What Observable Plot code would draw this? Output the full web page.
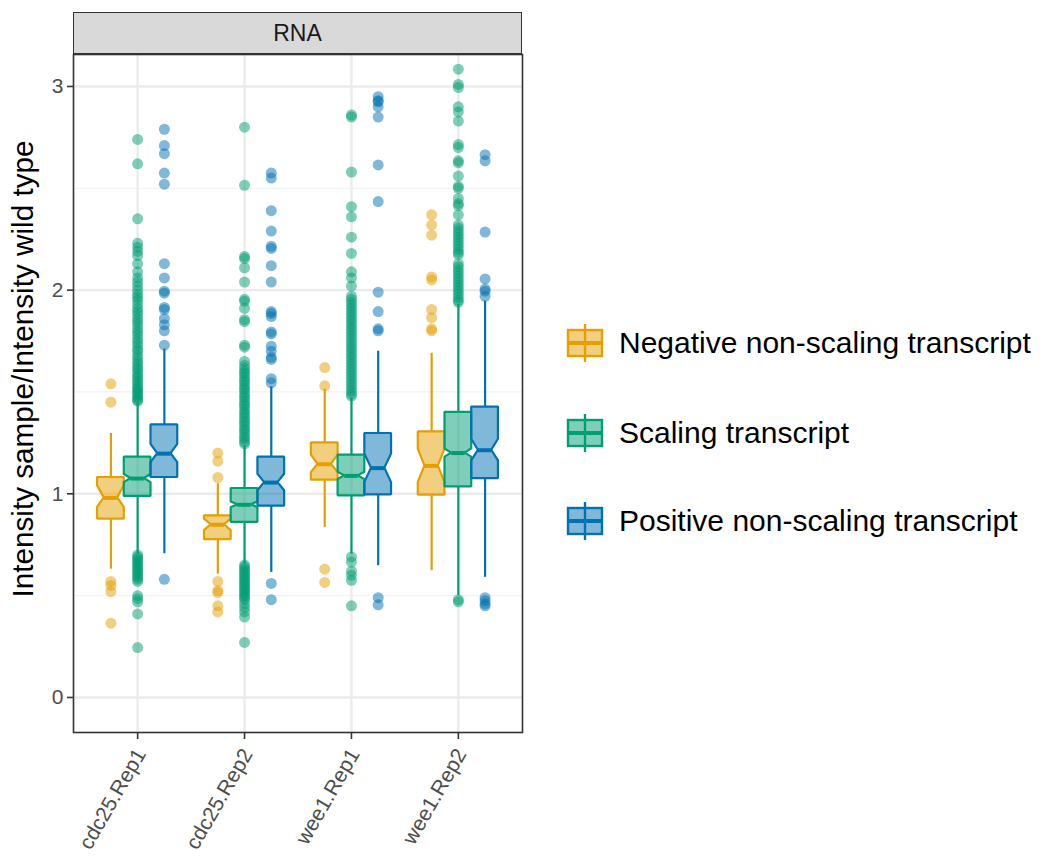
<!DOCTYPE html>
<html>
<head>
<meta charset="utf-8">
<script src="https://cdn.jsdelivr.net/npm/d3@7"></script>
<script src="https://cdn.jsdelivr.net/npm/@observablehq/plot@0.6"></script>
<style>
  body { margin: 0; background: #fff; font-family: "Liberation Sans", Arial, sans-serif; }
  #wrap { position: relative; width: 1040px; height: 857px; overflow: hidden; }
  #chart { position: absolute; left: 0; top: 0; }
  #strip {
    position: absolute; left: 73px; top: 12px; width: 449px; height: 42px;
    box-sizing: border-box; background: #D9D9D9; border: 1.5px solid #333;
    display: flex; align-items: center; justify-content: center;
    font-size: 23px; color: #1a1a1a;
  }
  #ylab {
    position: absolute; left: 23px; top: 369px; white-space: nowrap;
    transform: translate(-50%, -50%) rotate(-90deg);
    font-size: 29.7px; color: #000;
  }
  #legend { position: absolute; left: 562px; top: 0; }
  .key { position: absolute; display: flex; align-items: center; white-space: nowrap; }
  .key span { font-size: 30px; color: #000; margin-left: 13px; }
</style>
</head>
<body>
<div id="wrap">
  <div id="chart"></div>
  <div id="strip">RNA</div>
  <div id="ylab">Intensity sample/Intensity wild type</div>
  <div id="legend"></div>
</div>
<script>
// Samples on the x axis and transcript classes (dodged within each sample)
const categories = ["cdc25.Rep1", "cdc25.Rep2", "wee1.Rep1", "wee1.Rep2"];
const groups = ["Negative non-scaling transcript", "Scaling transcript", "Positive non-scaling transcript"];
const colors = ["#E69F00", "#009E73", "#0072B2"];
const yTicks = [0, 1, 2, 3];

// Box statistics per sample: [whisker low, Q1, notch low, median, notch high, Q3, whisker high]
const negativeStats = [
  [0.630, 0.876, 0.933, 0.980, 1.039, 1.080, 1.296],
  [0.606, 0.775, 0.819, 0.848, 0.876, 0.892, 1.050],
  [0.835, 1.067, 1.104, 1.145, 1.190, 1.250, 1.513],
  [0.623, 0.994, 1.055, 1.137, 1.219, 1.304, 1.690]
];
const scalingStats = [
  [0.705, 0.987, 1.055, 1.075, 1.095, 1.180, 1.445],
  [0.655, 0.860, 0.932, 0.946, 0.960, 1.026, 1.235],
  [0.704, 0.990, 1.070, 1.088, 1.106, 1.190, 1.470],
  [0.500, 1.034, 1.180, 1.200, 1.220, 1.400, 1.930]
];
const positiveStats = [
  [0.706, 1.080, 1.153, 1.197, 1.243, 1.338, 1.710],
  [0.614, 0.940, 1.015, 1.055, 1.096, 1.180, 1.525],
  [0.647, 0.995, 1.055, 1.126, 1.195, 1.296, 1.700],
  [0.590, 1.075, 1.162, 1.214, 1.268, 1.426, 1.946]
];

// Outlying transcripts per sample
const negativeOutliers = [
  [1.54, 1.45, 0.57, 0.55, 0.52, 0.365],
  [1.20, 1.16, 1.08, 0.57, 0.525, 0.515, 0.45, 0.42],
  [1.62, 1.53, 0.63, 0.565],
  [2.37, 2.32, 2.27, 2.065, 2.05, 1.905, 1.865, 1.81, 1.80]
];
const scalingOutliers = [
  [2.74, 2.62, 2.35, 2.23, 2.21, 2.19, 2.17, 2.13, 2.09, 2.06, 2.04, 2.02, 2.00, 1.98, 1.965, 1.95,
   1.93, 1.91, 1.895, 1.88, 1.86, 1.845, 1.83, 1.81, 1.795, 1.78, 1.76, 1.745, 1.73, 1.71, 1.70,
   1.68, 1.665, 1.65, 1.635, 1.62, 1.61, 1.595, 1.58, 1.57, 1.555, 1.545, 1.53, 1.52, 1.51, 1.50,
   1.49, 1.48, 1.47, 1.46, 1.455,
   0.70, 0.69, 0.68, 0.67, 0.66, 0.65, 0.64, 0.63, 0.62, 0.61, 0.60, 0.59, 0.58, 0.57, 0.50, 0.485,
   0.47, 0.41, 0.245],
  [2.80, 2.515, 2.165, 2.155, 2.11, 2.04, 1.955, 1.945, 1.91, 1.855, 1.845, 1.73, 1.72, 1.65, 1.63,
   1.615, 1.60, 1.59, 1.575, 1.56, 1.55, 1.535, 1.52, 1.51, 1.495, 1.48, 1.47, 1.455, 1.44, 1.43,
   1.415, 1.40, 1.39, 1.375, 1.36, 1.35, 1.335, 1.32, 1.31, 1.295, 1.28, 1.27, 1.255, 1.245,
   0.65, 0.64, 0.63, 0.62, 0.61, 0.60, 0.59, 0.58, 0.57, 0.56, 0.55, 0.54, 0.53, 0.52, 0.51, 0.50,
   0.49, 0.48, 0.46, 0.44, 0.42, 0.395, 0.27],
  [2.86, 2.85, 2.58, 2.41, 2.36, 2.26, 2.18, 2.09, 2.06, 2.02, 1.97, 1.955, 1.94, 1.925, 1.91,
   1.895, 1.88, 1.865, 1.85, 1.835, 1.82, 1.805, 1.79, 1.775, 1.76, 1.745, 1.73, 1.715, 1.70, 1.685,
   1.67, 1.655, 1.64, 1.625, 1.61, 1.595, 1.58, 1.565, 1.55, 1.535, 1.52, 1.505, 1.49, 1.48,
   0.69, 0.665, 0.62, 0.60, 0.575, 0.45],
  [3.085, 3.01, 2.995, 2.90, 2.875, 2.83, 2.715, 2.70, 2.635, 2.625, 2.56, 2.51, 2.50, 2.45, 2.425,
   2.415, 2.37, 2.32, 2.305, 2.29, 2.275, 2.26, 2.245, 2.23, 2.215, 2.20, 2.185, 2.175, 2.13, 2.115,
   2.10, 2.085, 2.07, 2.055, 2.04, 2.025, 2.01, 1.995, 1.98, 1.965, 1.95, 1.94,
   0.48, 0.47]
];
const positiveOutliers = [
  [2.79, 2.71, 2.67, 2.575, 2.52, 2.13, 2.06, 1.995, 1.985, 1.915, 1.905, 1.86, 1.83, 1.80, 1.73, 0.58],
  [2.575, 2.55, 2.39, 2.29, 2.215, 2.205, 2.12, 2.04, 1.895, 1.885, 1.87, 1.795, 1.785, 1.725, 1.70,
   1.67, 1.66, 1.565, 1.545, 0.56, 0.48],
  [2.95, 2.93, 2.925, 2.90, 2.85, 2.615, 2.435, 1.99, 1.895, 1.81, 1.80, 0.49, 0.455],
  [2.665, 2.635, 2.285, 2.055, 2.005, 1.995, 1.97, 0.49, 0.475, 0.46, 0.45]
];

const statsByGroup = [negativeStats, scalingStats, positiveStats];
const outliersByGroup = [negativeOutliers, scalingOutliers, positiveOutliers];

// Dodge: three boxes per sample, each a quarter of a category unit wide
const dodge = [-0.25, 0, 0.25];
const half = 0.125;       // half box width
const notchHalf = 0.0625; // half width at the notch waist

const boxes = [];
groups.forEach((g, gi) => categories.forEach((c, ci) => {
  const [wl, q1, nl, md, nh, q3, wh] = statsByGroup[gi][ci];
  boxes.push({group: g, x: ci + dodge[gi], wl, q1, nl, md, nh, q3, wh});
}));

// Notched outline traced bottom to top as an area between x1 and x2
const outline = boxes.flatMap((b, i) => [
  [b.q1, half], [b.nl, half], [b.md, notchHalf], [b.nh, half], [b.q3, half]
].map(([y, w]) => ({key: i, group: b.group, y, x1: b.x - w, x2: b.x + w})));

const points = [];
groups.forEach((g, gi) => categories.forEach((c, ci) => {
  outliersByGroup[gi][ci].forEach(v => points.push({group: g, x: ci + dodge[gi], y: v}));
}));

const xTicks = [0, 1, 2, 3];

const chart = Plot.plot({
  width: 540,
  height: 857,
  marginLeft: 73,
  marginRight: 18,
  marginTop: 54,
  marginBottom: 125,
  style: {fontFamily: "'Liberation Sans', Arial, sans-serif", fontSize: "21px", background: "transparent"},
  x: {type: "linear", domain: [-0.6, 3.6], axis: null},
  y: {domain: [-0.172, 3.157], axis: null},
  color: {domain: groups, range: colors},
  marks: [
    // grid
    Plot.ruleY([0.5, 1.5, 2.5], {stroke: "#F2F2F2", strokeWidth: 1.2}),
    Plot.ruleY(yTicks, {stroke: "#EBEBEB", strokeWidth: 2.4}),
    Plot.ruleX(xTicks, {stroke: "#EBEBEB", strokeWidth: 2.4}),
    // whiskers
    Plot.ruleX(boxes, {x: "x", y1: "wl", y2: "q1", stroke: "group", strokeWidth: 2.2}),
    Plot.ruleX(boxes, {x: "x", y1: "q3", y2: "wh", stroke: "group", strokeWidth: 2.2}),
    // notched boxes
    Plot.areaX(outline, {y: "y", x1: "x1", x2: "x2", z: "key", fill: "group", fillOpacity: 0.5,
      stroke: "group", strokeWidth: 2.2, strokeLinejoin: "miter"}),
    // medians
    Plot.ruleY(boxes, {y: "md", x1: d => d.x - notchHalf, x2: d => d.x + notchHalf, stroke: "group", strokeWidth: 4}),
    // outliers
    Plot.dot(points, {x: "x", y: "y", r: 5.5, fill: "group", fillOpacity: 0.5, stroke: "none"}),
    Plot.frame({stroke: "#333", strokeWidth: 1.6}),
    Plot.axisY(yTicks, {tickSize: 6, tickPadding: 4, stroke: "#333", strokeWidth: 1.6, fill: "#4d4d4d",
      fontSize: 21, tickFormat: d => String(d)}),
    // x tick marks, then the rotated sample names
    Plot.axisX(xTicks, {tickSize: 7, stroke: "#333", strokeWidth: 1.6, tickFormat: () => ""}),
    Plot.axisX(xTicks, {tickSize: 0, tickPadding: 8, fill: "#4d4d4d", fontSize: 21,
      tickRotate: -60, dx: 3, dy: 10, tickFormat: i => categories[i]})
  ]
});
document.getElementById("chart").append(chart);

// Legend keys: small boxplot glyphs with their labels
const legend = document.getElementById("legend");
const rowCenters = [343, 433, 521];
groups.forEach((g, i) => {
  const row = document.createElement("div");
  row.className = "key";
  row.style.top = (rowCenters[i] - 22) + "px";
  row.innerHTML =
    `<svg width="44" height="44" viewBox="0 0 44 44">
       <line x1="23" x2="23" y1="3" y2="41" stroke="${colors[i]}" stroke-width="2.4"/>
       <rect x="6" y="9" width="34" height="26" fill="${colors[i]}" fill-opacity="0.5" stroke="${colors[i]}" stroke-width="2.4"/>
       <line x1="6" x2="40" y1="22" y2="22" stroke="${colors[i]}" stroke-width="4"/>
     </svg><span>${g}</span>`;
  legend.append(row);
});
</script>
</body>
</html>
